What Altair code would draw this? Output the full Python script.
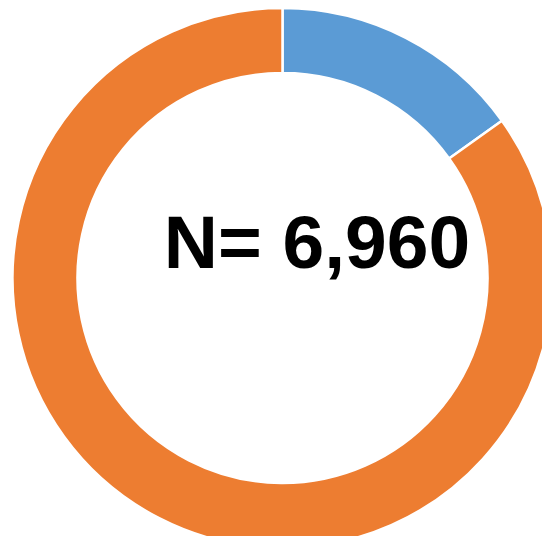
import altair as alt
import pandas as pd

categories = ["Group A", "Group B"]
counts = [1051, 5909]
colors = ["#5B9BD5", "#ED7D31"]
label = "N= 6,960"

df = pd.DataFrame({"category": categories, "count": counts, "order": [0, 1]})

donut = alt.Chart(df).mark_arc(
    outerRadius=270, innerRadius=205, stroke="white", strokeWidth=2.5
).encode(
    theta=alt.Theta("count:Q", stack=True),
    order=alt.Order("order:Q"),
    color=alt.Color("category:N", scale=alt.Scale(domain=categories, range=colors), legend=None),
    x=alt.value(274.5),
    y=alt.value(270),
)

text = alt.Chart(pd.DataFrame({"t": [label]})).mark_text(
    font="Liberation Sans", fontWeight="bold", fontSize=75, color="black",
    align="center", baseline="alphabetic"
).encode(
    text="t:N",
    x=alt.value(309),
    y=alt.value(259.6),
)

chart = alt.layer(donut, text).properties(
    width=534, height=528, padding=0, autosize=alt.AutoSizeParams(type="none")
).configure_view(stroke=None)

chart.save("out.html", embed_options={"renderer": "svg", "actions": False})
